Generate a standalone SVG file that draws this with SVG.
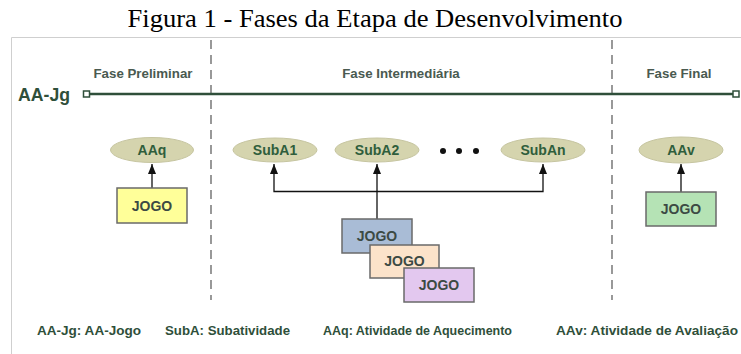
<svg xmlns="http://www.w3.org/2000/svg" width="741" height="354" viewBox="0 0 741 354">
<defs>
<marker id="ah" markerWidth="10" markerHeight="8" refX="10" refY="4" orient="auto-start-reverse" markerUnits="userSpaceOnUse" viewBox="0 0 10 8">
<path d="M0,0 L10,4 L0,8 Z" fill="#111"/>
</marker>
<style>
.ph{font-family:"Liberation Sans",Arial,sans-serif;font-weight:bold;font-size:13.3px;fill:#4a5a50;text-anchor:middle}
.el{fill:#d5d4ae;stroke:#c6c5a0;stroke-width:1}
.et{font-family:"Liberation Sans",Arial,sans-serif;font-weight:bold;font-size:14px;fill:#2f5e3c;text-anchor:middle}
.bx{stroke:#6a6a6a;stroke-width:1.5}
.bt{font-family:"Liberation Sans",Arial,sans-serif;font-weight:bold;font-size:14px;fill:#3c4a44;text-anchor:middle}
.lg{font-family:"Liberation Sans",Arial,sans-serif;font-weight:bold;font-size:13px;fill:#2f4f3a}
.dash{stroke:#555;stroke-width:1.2;stroke-dasharray:9,6;fill:none}
.ar{stroke:#111;stroke-width:1.3;fill:none}
</style>
</defs>
<rect width="741" height="354" fill="#fff"/>
<text x="375" y="27" font-family="Liberation Serif,'Times New Roman',serif" font-size="26" text-anchor="middle" fill="#000" textLength="495" lengthAdjust="spacingAndGlyphs">Figura 1 - Fases da Etapa de Desenvolvimento</text>
<path d="M11.5,354 V37.5 H741" stroke="#cfcfcf" stroke-width="1" fill="none"/>
<line class="dash" x1="211" y1="40" x2="211" y2="300"/>
<line class="dash" x1="612" y1="40" x2="612" y2="300"/>
<g id="timeline">
<text x="18" y="101" font-family="Liberation Sans,Arial,sans-serif" font-weight="bold" font-size="18" fill="#2f4f3a" textLength="52" lengthAdjust="spacingAndGlyphs">AA-Jg</text>
<line x1="89" y1="94" x2="733" y2="94" stroke="#2f4f3a" stroke-width="2.5"/>
<rect x="83.5" y="91" width="6" height="6" fill="#fff" stroke="#2f4f3a" stroke-width="1.5"/>
<rect x="733" y="91" width="6" height="6" fill="#fff" stroke="#2f4f3a" stroke-width="1.5"/>
</g>
<text class="ph" x="143" y="78">Fase Preliminar</text>
<text class="ph" x="401" y="78">Fase Intermediária</text>
<text class="ph" x="679" y="78">Fase Final</text>
<g id="connectors">
<line class="ar" x1="152" y1="188" x2="152" y2="164" marker-end="url(#ah)"/>
<line class="ar" x1="681" y1="192" x2="681" y2="164" marker-end="url(#ah)"/>
<polyline class="ar" points="377,219 377,191.5"/>
<polyline class="ar" points="274,164 274,191.5 543,191.5 543,164" marker-start="url(#ah)" marker-end="url(#ah)"/>
<line class="ar" x1="377" y1="191.5" x2="377" y2="164" marker-end="url(#ah)"/>
</g>
<g id="AAq"><ellipse class="el" cx="152" cy="150" rx="41.5" ry="12.5"/><text class="et" x="152" y="155">AAq</text></g>
<g id="SubA1"><ellipse class="el" cx="275" cy="150" rx="42" ry="12"/><text class="et" x="275" y="155">SubA1</text></g>
<g id="SubA2"><ellipse class="el" cx="377" cy="150" rx="42" ry="12"/><text class="et" x="377" y="155">SubA2</text></g>
<g id="dots" fill="#111"><circle cx="443" cy="151" r="3"/><circle cx="459" cy="151" r="3"/><circle cx="476" cy="151" r="3"/></g>
<g id="SubAn"><ellipse class="el" cx="543" cy="150" rx="42" ry="12"/><text class="et" x="543" y="155">SubAn</text></g>
<g id="AAv"><ellipse class="el" cx="681" cy="150" rx="42" ry="13"/><text class="et" x="681" y="155">AAv</text></g>
<g id="jogo-aq"><rect class="bx" x="117" y="188" width="70" height="35" fill="#ffff99"/><text class="bt" x="152" y="211">JOGO</text></g>
<g id="jogo-av"><rect class="bx" x="646" y="192" width="70" height="34" fill="#b5e3b5"/><text class="bt" x="681" y="214">JOGO</text></g>
<g id="jogo-1"><rect class="bx" x="342" y="219" width="70" height="34" fill="#a9bcd6"/><text class="bt" x="377" y="241">JOGO</text></g>
<g id="jogo-2"><rect class="bx" x="370" y="245" width="69" height="33" fill="#fce3ca"/><text class="bt" x="404.5" y="266">JOGO</text></g>
<g id="jogo-3"><rect class="bx" x="404" y="268" width="70" height="34" fill="#e3c8ef"/><text class="bt" x="439" y="290">JOGO</text></g>
<g id="legend">
<text class="lg" x="37" y="335" textLength="104" lengthAdjust="spacingAndGlyphs">AA-Jg: AA-Jogo</text>
<text class="lg" x="165" y="335" textLength="125" lengthAdjust="spacingAndGlyphs">SubA: Subatividade</text>
<text class="lg" x="323" y="335" textLength="189" lengthAdjust="spacingAndGlyphs">AAq: Atividade de Aquecimento</text>
<text class="lg" x="556" y="335" textLength="182" lengthAdjust="spacingAndGlyphs">AAv: Atividade de Avaliação</text>
</g>
</svg>
